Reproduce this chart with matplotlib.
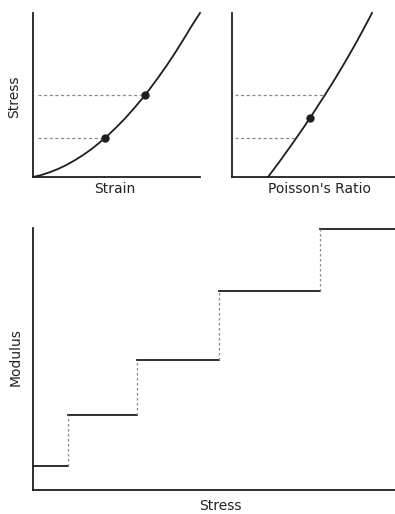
import matplotlib
matplotlib.use("Agg")
import matplotlib.pyplot as plt

# stress-strain curve (arbitrary units)
strain = [0, 0.5, 1, 1.5, 2, 2.5, 3, 3.5, 4, 4.5, 5, 5.5, 6, 6.5, 7, 7.5,
          8, 8.5, 9, 9.5, 10]
stress_a = [0, 0.12, 0.29, 0.49, 0.73, 1.02, 1.34, 1.70, 2.11, 2.55, 3.04,
            3.56, 4.13, 4.73, 5.38, 6.07, 6.79, 7.56, 8.37, 9.21, 10.0]
pts_strain = [4.31, 6.71]
pts_stress_a = [2.38, 5.0]

# stress - poisson's ratio curve
poisson = [2.21, 2.96, 3.68, 4.38, 5.05, 5.70, 6.33, 6.93, 7.51, 8.06, 8.59]
stress_b = [0, 1, 2, 3, 4, 5, 6, 7, 8, 9, 10]
pt_poisson = [4.78]
pt_stress_b = [3.6]

# modulus steps
step_edges = [0, 0.97, 2.87, 5.14, 7.93, 10.0]
modulus = [0.92, 2.86, 4.96, 7.60, 9.96]

W, H = 395, 514
ink = "#1e1e1e"
dash = "#8a8a8a"

fig = plt.figure(figsize=(W / 100, H / 100), dpi=100)


def make_ax(x0, y0, x1, y1):
    # pixel box -> figure fraction
    ax = fig.add_axes([x0 / W, 1 - y1 / H, (x1 - x0) / W, (y1 - y0) / H])
    ax.set_xlim(0, 10)
    ax.set_ylim(0, 10)
    for s in ["top", "right"]:
        ax.spines[s].set_visible(False)
    for s in ["left", "bottom"]:
        ax.spines[s].set_linewidth(1.3)
        ax.spines[s].set_color(ink)
    ax.set_xticks([])
    ax.set_yticks([])
    ax.patch.set_alpha(0)
    return ax


# top left: stress vs strain
ax1 = make_ax(33, 13, 200, 177)
ax1.plot(strain, stress_a, color=ink, lw=1.3, clip_on=False)
for sx, sy in zip(pts_strain, pts_stress_a):
    ax1.plot([0.3, sx], [sy, sy], color=dash, lw=0.9, ls=(0, (2.5, 2)))
ax1.plot(pts_strain, pts_stress_a, "o", color=ink, ms=5)

# top right: stress vs poisson's ratio
ax2 = make_ax(232, 13, 395, 177)
ax2.plot(poisson, stress_b, color=ink, lw=1.3, clip_on=False)
for sy in pts_stress_a:
    # dashed line runs from the axis to where it meets the curve
    cx = None
    for i in range(len(stress_b) - 1):
        if stress_b[i] <= sy <= stress_b[i + 1]:
            f = (sy - stress_b[i]) / (stress_b[i + 1] - stress_b[i])
            cx = poisson[i] + f * (poisson[i + 1] - poisson[i])
    ax2.plot([0.2, cx], [sy, sy], color=dash, lw=0.9, ls=(0, (2.5, 2)))
ax2.plot(pt_poisson, pt_stress_b, "o", color=ink, ms=5)

# bottom: modulus vs stress
ax3 = make_ax(33, 228, 395, 490)
for i, m in enumerate(modulus):
    ax3.plot([step_edges[i], step_edges[i + 1]], [m, m], color=ink, lw=1.3,
             clip_on=False)
for i in range(1, len(modulus)):
    ax3.plot([step_edges[i], step_edges[i]], [modulus[i - 1], modulus[i]],
             color=dash, lw=0.9, ls=(0, (2, 2)))

tkw = dict(color="#222222", fontsize=10, family="DejaVu Sans")
fig.text(14 / W, 1 - 97 / H, "Stress", rotation=90, ha="center", va="center", **tkw)
fig.text(115 / W, 1 - 189 / H, "Strain", ha="center", va="center", **tkw)
fig.text(319 / W, 1 - 189 / H, "Poisson's Ratio", ha="center", va="center", **tkw)
fig.text(16 / W, 1 - 357 / H, "Modulus", rotation=90, ha="center", va="center", **tkw)
fig.text(220 / W, 1 - 506 / H, "Stress", ha="center", va="center", **tkw)

fig.savefig("out.png", dpi=100)
